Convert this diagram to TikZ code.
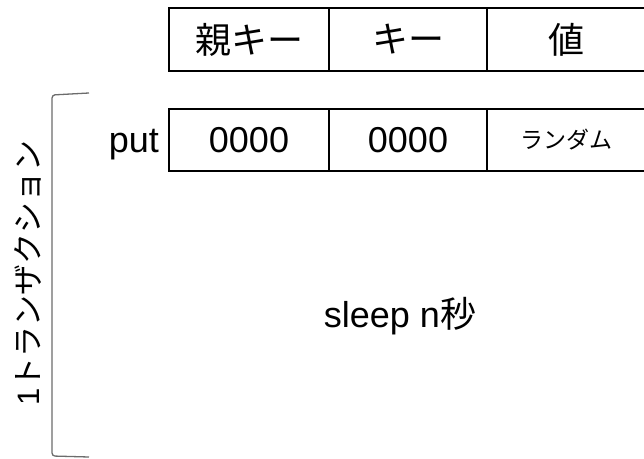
\documentclass[tikz,border=0pt]{standalone}
\usepackage{fontspec}
\setmainfont{Liberation Sans}
\newfontfamily\jp{Noto Sans CJK JP}
\begin{document}
\begin{tikzpicture}[x=1bp,y=-1bp,
  cell/.style={draw=black,line width=1.6bp,minimum height=63bp,inner sep=0pt,
    font=\fontsize{36bp}{40bp}\selectfont},
  lbl/.style={inner sep=0pt,font=\fontsize{36bp}{40bp}\selectfont}]
\useasboundingbox (0,0) rectangle (644,459);
\begin{scope}
\clip (0,0) rectangle (644,459);
% header row
\node[cell,minimum width=160bp] (h1) at (249,39.5) {\jp 親キー};
\node[cell,minimum width=158bp] (h2) at (408,39.5) {\jp キー};
\node[cell,minimum width=159bp] (h3) at (566.5,39.5) {\jp 値};
% put row
\node[cell,minimum width=160bp,minimum height=62bp] (p1) at (249,140) {0000};
\node[cell,minimum width=158bp,minimum height=62bp] (p2) at (408,140) {0000};
\node[cell,minimum width=159bp,minimum height=62bp,font=\fontsize{23bp}{26bp}\selectfont] (p3) at (566.5,140) {\jp ランダム};
\end{scope}
\node[lbl,anchor=base east] (put) at ([xshift=-9bp]p1.base west) {put};
\node[lbl] (sleep) at (400,316) {sleep n{\jp 秒}};
% bracket
\coordinate (bt) at (89,93);
\coordinate (bb) at (89,457);
\draw[gray!85!black,line width=1.3bp,rounded corners=3bp] (bt) -- (52,95) -- (52,456) -- (bb);
\node[lbl,rotate=90,font=\fontsize{31bp}{34bp}\selectfont] (tx) at (28,273) {1{\jp トランザクション}};
\end{tikzpicture}
\end{document}
